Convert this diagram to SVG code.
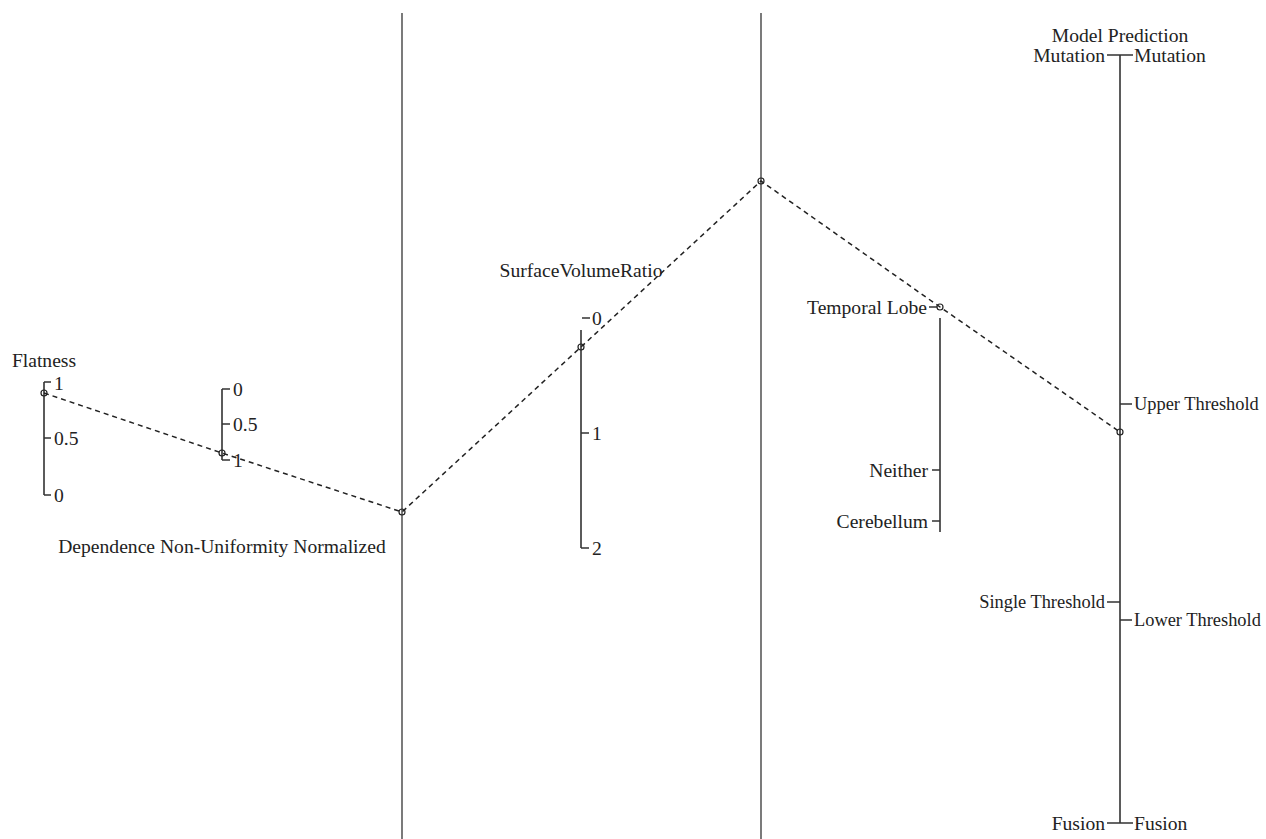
<svg xmlns="http://www.w3.org/2000/svg" width="1266" height="839" viewBox="0 0 1266 839">
<style>
text{font-family:"Liberation Serif","Times New Roman",serif;font-size:19.6px;fill:#222}
.title{text-anchor:middle}
.r{dominant-baseline:central}
.l{dominant-baseline:central;text-anchor:end}
.th{font-size:18.4px}
.ax{stroke:#333;stroke-width:1.6;fill:none}
.full{stroke:#333;stroke-width:1.3;fill:none}
.conn{stroke:#222;stroke-width:1.5;stroke-dasharray:5 4;fill:none}
.pt{stroke:#222;stroke-width:1.2;fill:none}
</style>
<rect width="1266" height="839" fill="#fff"/>
<g id="axis-flatness">
<text class="title" x="44" y="367">Flatness</text>
<path class="ax" d="M44 382V495M44 382H51M44 438H51M44 495H51"/>
<text class="r" x="54" y="383">1</text>
<text class="r" x="54" y="438">0.5</text>
<text class="r" x="54" y="495">0</text>
</g>
<g id="axis-dnun">
<text class="title" x="222" y="553">Dependence Non-Uniformity Normalized</text>
<path class="ax" d="M222 389V460M222 389H230M222 424H230M222 460H230"/>
<text class="r" x="233" y="389">0</text>
<text class="r" x="233" y="424">0.5</text>
<text class="r" x="233" y="460">1</text>
</g>
<g id="axis-3">
<path class="full" d="M402 13V839"/>
</g>
<g id="axis-svr">
<text class="title" x="581" y="277">SurfaceVolumeRatio</text>
<path class="ax" d="M581 330V548M582 318H590M581 433H589M581 548H589"/>
<text class="r" x="592" y="318">0</text>
<text class="r" x="592" y="433">1</text>
<text class="r" x="592" y="548">2</text>
</g>
<g id="axis-5">
<path class="full" d="M761 13V839"/>
</g>
<g id="axis-location">
<path class="ax" d="M940 318V532M929 307H937M932 470H940M932 521H940"/>
<text class="l" x="927" y="307">Temporal Lobe</text>
<text class="l" x="928" y="470">Neither</text>
<text class="l" x="928" y="521">Cerebellum</text>
</g>
<g id="axis-prediction">
<text class="title" x="1120" y="42">Model Prediction</text>
<path class="ax" d="M1120 55V823M1107 55H1133M1107 602H1120M1107 823H1133M1120 404H1132M1120 620H1132"/>
<text class="l" x="1105" y="55">Mutation</text>
<text class="l th" x="1105" y="602">Single Threshold</text>
<text class="l" x="1105" y="823">Fusion</text>
<text class="r" x="1134" y="55">Mutation</text>
<text class="r th" x="1134" y="404">Upper Threshold</text>
<text class="r th" x="1134" y="620">Lower Threshold</text>
<text class="r" x="1134" y="823">Fusion</text>
</g>
<g id="connectors">
<polyline class="conn" points="44,393 222,453 402,512 581,347 761,181 940,307 1120,432"/>
<circle class="pt" cx="44" cy="393" r="3"/>
<circle class="pt" cx="222" cy="453" r="3"/>
<circle class="pt" cx="402" cy="512" r="3"/>
<circle class="pt" cx="581" cy="347" r="3"/>
<circle class="pt" cx="761" cy="181" r="3"/>
<circle class="pt" cx="940" cy="307" r="3"/>
<circle class="pt" cx="1120" cy="432" r="3"/>
</g>
</svg>
